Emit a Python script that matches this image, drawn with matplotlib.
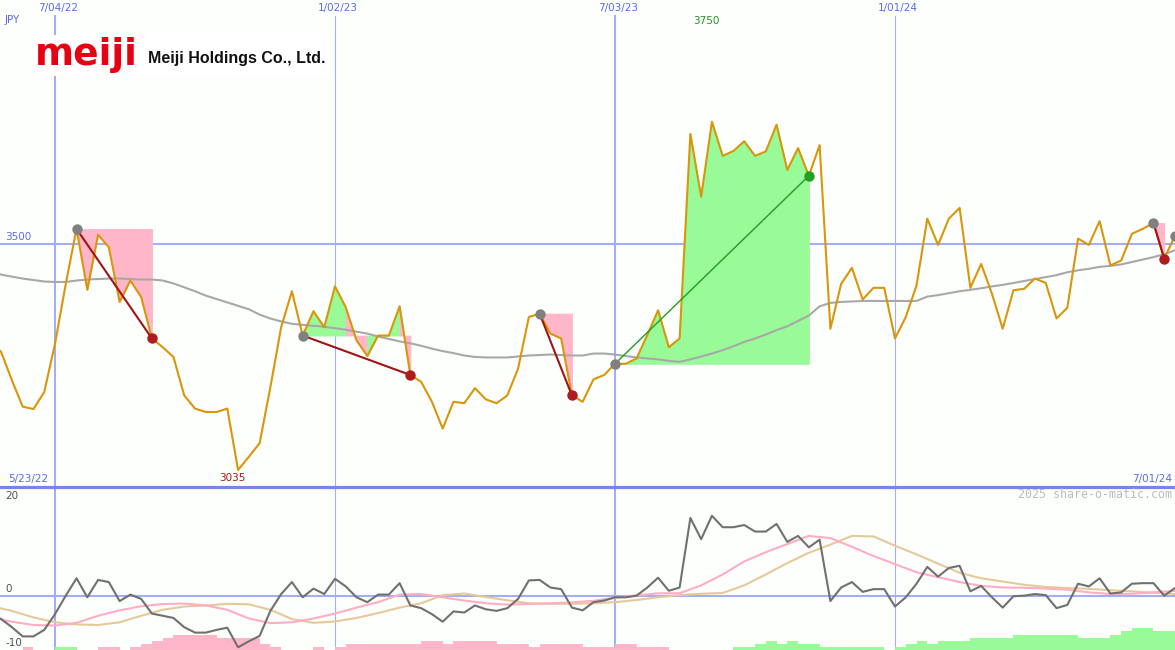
import pandas as pd
import matplotlib
matplotlib.use('Agg')
import matplotlib.pyplot as plt
import matplotlib.dates as mdates
from matplotlib.patches import Rectangle
from matplotlib.transforms import blended_transform_factory

# Weekly closes of Meiji Holdings (JPY) from 5/23/22 to 7/01/24
start_date = '2022-05-23'
end_date = '2024-07-01'

price = [3301, 3277, 3219, 3165, 3160, 3195,
         3294, 3417, 3530, 3405, 3518, 3492, 3380, 3424, 3390, 3305,
         3287, 3267, 3188, 3161, 3154, 3154, 3161, 3035, 3062, 3090,
         3205, 3328, 3402, 3311, 3361, 3328, 3412, 3369, 3301, 3269,
         3311, 3311, 3371, 3230, 3216, 3175, 3120, 3175, 3172, 3203,
         3180, 3172, 3188, 3243, 3349, 3356, 3315, 3305, 3188, 3175,
         3221, 3230, 3253, 3253, 3264, 3312, 3363, 3287, 3305, 3725,
         3596, 3750, 3680, 3690, 3710, 3680, 3689, 3744, 3651, 3696,
         3639, 3702, 3325, 3417, 3450, 3385, 3409, 3409, 3305, 3349,
         3414, 3551, 3497, 3551, 3573, 3409, 3458, 3397, 3325, 3404,
         3407, 3428, 3419, 3346, 3368, 3510, 3497, 3546, 3455, 3465,
         3520, 3530, 3542, 3469, 3516]

# moving average (grey line)
ma_price = [3445, 3436, 3432, 3428, 3425, 3422,
            3421, 3421, 3424, 3426, 3427, 3428, 3428, 3427, 3426, 3426,
            3424, 3418, 3410, 3402, 3393, 3386, 3379, 3372, 3365, 3354,
            3346, 3340, 3335, 3333, 3331, 3329, 3326, 3323, 3319, 3315,
            3309, 3304, 3299, 3295, 3290, 3284, 3279, 3275, 3270, 3267,
            3266, 3266, 3266, 3268, 3270, 3271, 3272, 3271, 3270, 3270,
            3274, 3274, 3272, 3269, 3266, 3264, 3262, 3259, 3257, 3262,
            3268, 3274, 3281, 3289, 3298, 3305, 3313, 3322, 3330, 3341,
            3352, 3371, 3378, 3380, 3381, 3382, 3382, 3382, 3382, 3382,
            3382, 3391, 3394, 3398, 3402, 3405, 3408, 3412, 3415, 3419,
            3423, 3427, 3431, 3435, 3441, 3445, 3448, 3452, 3454, 3457,
            3462, 3467, 3472, 3478, 3486]

# lower panel: % distance from the average (dark line)
deviation = [-3.5, -4.3, -5.8, -7.5, -7.5, -6.3,
             -3.4, 0.0, 3.2, -0.3, 2.9, 2.5, -1.0, 0.2, -0.6, -3.3,
             -3.7, -4.1, -5.8, -6.8, -6.8, -6.3, -5.9, -9.5, -8.4, -7.4,
             -2.8, 0.3, 2.5, -0.3, 1.3, 0.3, 3.1, 1.7, -0.3, -1.2,
             0.2, 0.2, 2.3, -1.8, -2.3, -3.4, -4.8, -2.9, -3.1, -1.8,
             -2.5, -2.8, -2.3, -0.6, 2.8, 2.9, 1.5, 1.2, -2.2, -2.7,
             -1.2, -0.9, -0.3, -0.3, 0.0, 1.5, 3.3, 0.9, 1.5, 14.3,
             10.4, 14.7, 12.6, 12.6, 13.0, 11.8, 11.8, 13.2, 9.9, 11.0,
             8.9, 10.3, -1.0, 1.5, 2.5, 0.7, 1.2, 1.2, -2.0, -0.3,
             2.2, 5.3, 3.5, 5.1, 5.5, 0.8, 1.8, -0.3, -2.2, -0.1,
             0.0, 0.3, 0.1, -2.3, -1.7, 2.2, 1.7, 3.2, 0.4, 0.6,
             2.2, 2.3, 2.3, 0.0, 1.4]

# smoothed signal lines, read every second week
signal_fast = [-4.0, -4.8, -5.4, -5.5, -5.0, -3.7, -2.7, -1.95, -1.55, -1.45,
               -1.8, -2.6, -4.2, -5.05, -4.9, -4.2, -3.3, -2.2, -1.2, 0.2,
               0.3, -0.3, -0.9, -1.4, -1.65, -1.55, -1.4, -1.25, -0.95, -0.4,
               0.05, 0.43, 0.45, 1.9, 3.9, 6.3, 8.0, 9.5, 11.0, 10.6,
               9.0, 7.3, 5.8, 4.3, 3.4, 2.5, 1.8, 1.5, 1.45, 1.3,
               1.1, 0.6, 0.3, 0.35, 0.6, 0.9]
signal_slow = [-1.9, -2.8, -4.0, -4.9, -5.3, -5.4, -4.9, -3.7, -2.6, -2.0,
               -1.8, -1.5, -1.6, -2.6, -4.3, -5.0, -4.75, -4.1, -3.2, -2.2,
               -1.4, 0.1, 0.4, -0.25, -0.85, -1.4, -1.5, -1.5, -1.4, -1.2,
               -0.8, -0.3, 0.1, 0.35, 0.5, 1.9, 3.9, 6.0, 7.9, 9.4,
               11.0, 10.9, 9.2, 7.6, 5.9, 4.2, 3.2, 2.6, 2.0, 1.6,
               1.4, 1.25, 1.0, 0.8, 0.55, 0.3]

# weekly trend bars at the bottom (negative = pink, positive = green)
bar_levels = [0, 0, 0, -1, 0, 0,
              1, 1, 0, 0, -1, -1, 0, -1, -2, -3,
              -4, -5, -5, -5, -5, -4, -4, -4, -4, -2,
              -1, 0, 0, 0, -1, 0, -1, -2, -2, -2,
              -2, -2, -2, -2, -3, -3, -2, -3, -3, -3,
              -3, -2, -2, -2, -1, -2, -2, -2, -2, -1,
              -1, -1, -2, -2, -1, -1, -1, 0, 0, 0,
              0, 0, 0, 1, 1, 2, 3, 2, 3, 2,
              2, 1, 1, 1, 1, 1, 1, 0, 1, 2,
              3, 2, 3, 3, 3, 4, 4, 4, 4, 5,
              5, 5, 5, 5, 5, 4, 4, 4, 5, 6,
              7, 7, 6, 6, 0]

# trades as (entry week index, exit week index), plus the open one
trades = [(8, 15), (29, 39), (51, 54), (58, 76), (108, 109)]
open_entry = 110

grid_dates = ['2022-07-04', '2023-01-02', '2023-07-03', '2024-01-01']
grid_labels = ['7/04/22', '1/02/23', '7/03/23', '1/01/24']
price_ticks = [3500]
osc_ticks = [20, 0, -10]

assert len(price) == len(ma_price) == len(deviation) == len(bar_levels) == 111

BG = '#fdfffd'
GRID = '#a4aef2'
BLUE_TXT = '#5b68f0'
ORANGE = '#d9960a'
PINK = '#ffb6c8'
GREEN = '#98fb98'

W, H = 1175, 650
TOP_H = 487

dates = pd.date_range(start_date, periods=len(price), freq='7D')
x = mdates.date2num(dates)
sig_x = x[::2]
week = 7.0
x_left = mdates.date2num(pd.Timestamp(grid_dates[0])) - 5.107 * week
x_right = mdates.date2num(pd.Timestamp(end_date))

fig = plt.figure(figsize=(W / 100, H / 100), dpi=100, facecolor=BG)
ax = fig.add_axes([0, (H - TOP_H) / H, 1, TOP_H / H])
ax2 = fig.add_axes([0, 0, 1, (H - TOP_H) / H])
for a in (ax, ax2):
    a.set_axis_off()
    a.set_xlim(x_left, x_right)
ax.set_ylim(3000, 4000)
ax2.set_ylim(-10, 20)

# grid lines
for d in grid_dates:
    gx = mdates.date2num(pd.Timestamp(d))
    lw = 1.5 if pd.Timestamp(d).month == 7 else 0.8
    ax.axvline(gx, ymin=0, ymax=1 - 16 / TOP_H, color=GRID, lw=lw, zorder=1)
    ax2.axvline(gx, color=GRID, lw=lw, zorder=1)
for t in price_ticks:
    ax.axhline(t, color=GRID, lw=1.5, zorder=1)
ax2.axhline(0, color=GRID, lw=1.5, zorder=1)
ax2.axhline(20, color='#7784ee', lw=2.3, zorder=1, clip_on=False)

# trade shading, one colour per weekly segment
for s, e in trades:
    base = price[s]
    for i in range(s, e):
        col = GREEN if price[i + 1] >= base else PINK
        ax.fill_between(x[i:i + 2], price[i:i + 2], base, facecolor=col, edgecolor=col,
                        lw=0.6, antialiased=False, zorder=2)

ax.plot(x, ma_price, color='#a8a8a8', lw=1.5, zorder=3)
ax.plot(x, price, color=ORANGE, lw=1.5, zorder=4)

for s, e in trades:
    win = price[e] > price[s]
    lc = '#1e9e1e' if win else '#a01414'
    ax.plot([x[s], x[e]], [price[s], price[e]], color=lc, lw=1.0 if win else 1.5, zorder=5)
    ax.plot(x[s], price[s], 'o', color='#808080', ms=7.5, mew=0, zorder=6)
    ax.plot(x[e], price[e], 'o', color='#22a022' if win else '#b01c1c', ms=7.5, mew=0, zorder=6)
ax.plot(x[open_entry], price[open_entry], 'o', color='#808080', ms=7.5, mew=0, zorder=6, clip_on=False)

# text on the price panel
lab = dict(fontsize=7.5, color=BLUE_TXT, family='DejaVu Sans')
tr_top = blended_transform_factory(ax.transData, ax.transAxes)
for d, s in zip(grid_dates, grid_labels):
    ax.annotate(s, (mdates.date2num(pd.Timestamp(d)), 1 - 8 / TOP_H), xycoords=tr_top,
                xytext=(3, 0), textcoords='offset pixels', ha='center', va='center', **lab)
ax.text(5 / W, 1 - 20 / TOP_H, 'JPY', transform=ax.transAxes, ha='left', va='center', **lab)
tr_left = blended_transform_factory(ax.transAxes, ax.transData)
for t in price_ticks:
    ax.annotate(str(t), (0, t), xycoords=tr_left, xytext=(5, 1), textcoords='offset pixels',
                ha='left', va='bottom', **lab)
ax.text(8 / W, 1 - 479 / TOP_H, dates[0].strftime('%-m/%d/%y'), transform=ax.transAxes,
        ha='left', va='center', **lab)
ax.text(1172 / W, 1 - 479 / TOP_H, pd.Timestamp(end_date).strftime('%-m/%d/%y'),
        transform=ax.transAxes, ha='right', va='center', **lab)

i_max = max(range(len(price)), key=lambda i: price[i])
i_min = min(range(len(price)), key=lambda i: price[i])
ax.annotate(f'{price[i_max]}', (x[i_max], 1 - 21 / TOP_H), xycoords=tr_top, xytext=(-6, 0),
            textcoords='offset pixels', ha='center', va='center', fontsize=7.5, color='#239023')
ax.annotate(f'{price[i_min]}', (x[i_min], 1 - 478 / TOP_H), xycoords=tr_top, xytext=(-6, 0),
            textcoords='offset pixels', ha='center', va='center', fontsize=7.5, color='#a01818')

# logo
fig.patches.append(Rectangle((30 / W, 1 - 76 / H), 300 / W, 41 / H, transform=fig.transFigure,
                             facecolor='white', edgecolor='none', zorder=3))
fig.text(35 / W, 1 - 65 / H, 'meiji', fontsize=27, fontweight='heavy', color='#e60012',
         va='baseline', zorder=4)
fig.text(148 / W, 1 - 63 / H, 'Meiji Holdings Co., Ltd.', fontsize=11.5, fontweight='bold',
         family='Liberation Sans', color='#111111', va='baseline', zorder=4)

# lower panel
bar_unit = 0.57
ax2.bar(x, [abs(v) * bar_unit for v in bar_levels], bottom=-10, width=week, align='edge',
        color=[GREEN if v > 0 else PINK for v in bar_levels], lw=0, antialiased=False, zorder=2)
ax2.plot(sig_x, signal_slow, color='#e6c99a', lw=1.5, zorder=3)
ax2.plot(sig_x, signal_fast, color='#ffadc4', lw=1.5, zorder=3)
ax2.plot(x, deviation, color='#707070', lw=1.5, zorder=4)

tr2 = blended_transform_factory(ax2.transAxes, ax2.transData)
for t in osc_ticks:
    top = t == max(osc_ticks)
    ax2.annotate(str(t), (0, t), xycoords=tr2, xytext=(5, -4 if top else 2), textcoords='offset pixels',
                 ha='left', va='top' if top else 'bottom', fontsize=7.5, color='#505050')
fig.text(1172 / W, 1 - 495 / H, '2025 share-o-matic.com', ha='right', va='center',
         family='DejaVu Sans Mono', fontsize=8.4, color='#bcbcbc')

fig.savefig('out.png', dpi=100, facecolor=BG)
